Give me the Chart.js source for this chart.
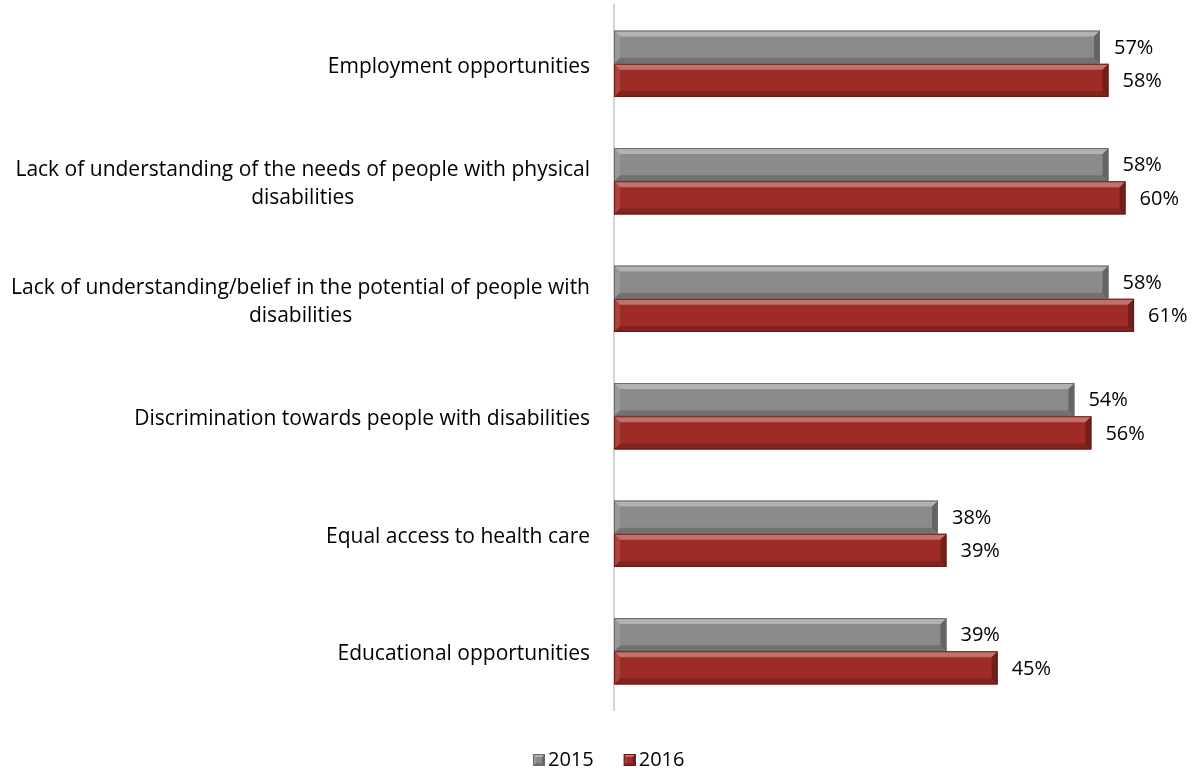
<!DOCTYPE html>
<html>
<head>
<meta charset="utf-8">
<script src="https://cdn.jsdelivr.net/npm/chart.js@4.4.1/dist/chart.umd.min.js"></script>
<style>
  html, body { margin: 0; padding: 0; background: #fff; }
  #wrap { position: absolute; left: 0; top: 0; width: 1198px; height: 771px; }
</style>
</head>
<body>
<div id="wrap"><canvas id="myChart"></canvas></div>
<script>
var categories = [
  "Employment opportunities",
  ["Lack of understanding of the needs of people with physical", "disabilities"],
  ["Lack of understanding/belief in the potential of people with", "disabilities"],
  "Discrimination towards people with disabilities",
  "Equal access to health care",
  "Educational opportunities"
];
var values2015 = [57, 58, 58, 54, 38, 39];
var values2016 = [58, 60, 61, 56, 39, 45];
var seriesNames = ["2015", "2016"];

var fontFamily = "'Open Sans', 'Liberation Sans', sans-serif";
var labelFont = "21px " + fontFamily;
var font = "20px " + fontFamily;

function bevelRect(ctx, l, t, r, bm, b, fill, border) {
  function poly(pts, color) {
    ctx.beginPath();
    ctx.moveTo(pts[0][0], pts[0][1]);
    for (var k = 1; k < pts.length; k++) ctx.lineTo(pts[k][0], pts[k][1]);
    ctx.closePath();
    ctx.fillStyle = color;
    ctx.fill();
  }
  if (fill) {
    ctx.fillStyle = fill;
    ctx.fillRect(l, t, r - l, bm - t);
  }
  poly([[l, t], [r, t], [r - b, t + b], [l + b, t + b]], 'rgba(255,255,255,0.34)');
  poly([[l, bm], [r, bm], [r - b, bm - b], [l + b, bm - b]], 'rgba(0,0,0,0.18)');
  poly([[l, t], [l + b, t + b], [l + b, bm - b], [l, bm]], 'rgba(255,255,255,0.12)');
  poly([[r, t], [r - b, t + b], [r - b, bm - b], [r, bm]], 'rgba(0,0,0,0.28)');
  ctx.strokeStyle = border;
  ctx.lineWidth = 1;
  ctx.strokeRect(l + 0.5, t + 0.5, r - l - 1, bm - t - 1);
}

// beveled edges on every bar, drawn over the flat fill
var bevelPlugin = {
  id: 'bevel',
  afterDatasetsDraw: function(chart) {
    var ctx = chart.ctx;
    chart.data.datasets.forEach(function(ds, i) {
      chart.getDatasetMeta(i).data.forEach(function(bar) {
        var l = Math.min(bar.base, bar.x), r = Math.max(bar.base, bar.x);
        ctx.save();
        bevelRect(ctx, l, bar.y - bar.height / 2, r, bar.y + bar.height / 2, 6, null, ds.borderColor);
        ctx.restore();
      });
    });
  }
};

// percentage labels to the right of each bar
var valueLabels = {
  id: 'valueLabels',
  afterDatasetsDraw: function(chart) {
    var ctx = chart.ctx;
    ctx.save();
    ctx.font = font;
    ctx.fillStyle = "#000";
    ctx.textAlign = "left";
    ctx.textBaseline = "middle";
    chart.data.datasets.forEach(function(ds, i) {
      chart.getDatasetMeta(i).data.forEach(function(bar, j) {
        ctx.fillText(ds.data[j] + "%", bar.x + 14, bar.y + 1);
      });
    });
    ctx.restore();
  }
};

// category labels: block right-aligned to the axis, wrapped lines centred
var categoryLabels = {
  id: 'categoryLabels',
  afterDraw: function(chart) {
    var ctx = chart.ctx;
    var yScale = chart.scales.y;
    var right = yScale.right - 24;
    var lineH = 28;
    ctx.save();
    ctx.font = labelFont;
    ctx.fillStyle = "#000";
    ctx.textAlign = "center";
    ctx.textBaseline = "middle";
    chart.data.labels.forEach(function(lbl, i) {
      var lines = Array.isArray(lbl) ? lbl : [lbl];
      var w = 0;
      lines.forEach(function(s) { w = Math.max(w, ctx.measureText(s).width); });
      var cx = right - w / 2;
      var y0 = yScale.getPixelForTick(i) - (lines.length - 1) * lineH / 2 + 3;
      lines.forEach(function(s, k) { ctx.fillText(s, cx, y0 + k * lineH); });
    });
    ctx.restore();
  }
};

// legend under the plot, small beveled swatches
var legendBox = {
  id: 'legendBox',
  afterDraw: function(chart) {
    var ctx = chart.ctx;
    var x = 533, y = 760;
    ctx.save();
    ctx.font = font;
    ctx.textBaseline = "middle";
    ctx.textAlign = "left";
    chart.data.datasets.forEach(function(ds) {
      bevelRect(ctx, x, y - 6, x + 12, y + 6, 3, ds.backgroundColor, ds.borderColor);
      ctx.fillStyle = "#000";
      ctx.fillText(ds.label, x + 15, y);
      x += 15 + ctx.measureText(ds.label).width + 30;
    });
    ctx.restore();
  }
};

var ctx = document.getElementById("myChart").getContext('2d');
var mychart = new Chart(ctx, {
  type: 'bar',
  data: {
    labels: categories,
    datasets: [{
      label: seriesNames[0],
      data: values2015,
      backgroundColor: "#8b8b8b",
      borderColor: "#6a6a6a",
      borderWidth: 0
    }, {
      label: seriesNames[1],
      data: values2016,
      backgroundColor: "#9e2b25",
      borderColor: "#6a1814",
      borderWidth: 0
    }]
  },
  options: {
    indexAxis: 'y',
    responsive: true,
    maintainAspectRatio: false,
    animation: false,
    categoryPercentage: 0.565,
    barPercentage: 1,
    layout: { padding: { left: 0, right: 0, top: 5, bottom: 61 } },
    scales: {
      x: {
        display: false,
        min: 0,
        max: 68.5
      },
      y: {
        grid: { display: false, drawTicks: false },
        border: { display: true, color: "#d4d4d4", width: 2 },
        ticks: { display: false },
        afterFit: function(scale) { scale.width = 614; }
      }
    },
    plugins: {
      legend: { display: false },
      tooltip: { enabled: false }
    }
  },
  plugins: [bevelPlugin, valueLabels, categoryLabels, legendBox]
});
</script>
</body>
</html>
